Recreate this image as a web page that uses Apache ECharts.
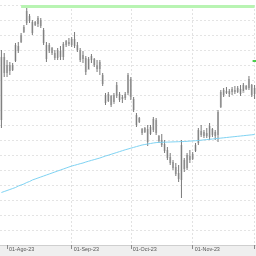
<!DOCTYPE html>
<html>
<head>
<meta charset="utf-8">
<script src="https://cdn.jsdelivr.net/npm/echarts@6/dist/echarts.min.js"></script>
<style>html,body{margin:0;padding:0;background:#fff}#c{width:256px;height:256px}</style>
</head>
<body>
<div id="c"></div>
<script>
const dates = [
 '2023-07-28','2023-07-31',
 '2023-08-01','2023-08-02','2023-08-03','2023-08-04','2023-08-07','2023-08-08','2023-08-09','2023-08-10','2023-08-11',
 '2023-08-14','2023-08-15','2023-08-16','2023-08-17','2023-08-18','2023-08-21','2023-08-22','2023-08-23','2023-08-24','2023-08-25',
 '2023-08-28','2023-08-29','2023-08-30','2023-08-31',
 '2023-09-01','2023-09-04','2023-09-05','2023-09-06','2023-09-07','2023-09-08','2023-09-11','2023-09-12','2023-09-13','2023-09-14','2023-09-15',
 '2023-09-18','2023-09-19','2023-09-20','2023-09-21','2023-09-22','2023-09-25','2023-09-26','2023-09-27','2023-09-28','2023-09-29',
 '2023-10-02','2023-10-03','2023-10-04','2023-10-05','2023-10-06','2023-10-09','2023-10-10','2023-10-11','2023-10-12','2023-10-13',
 '2023-10-16','2023-10-17','2023-10-18','2023-10-19','2023-10-20','2023-10-23','2023-10-24','2023-10-25','2023-10-26','2023-10-27',
 '2023-10-30','2023-10-31',
 '2023-11-01','2023-11-02','2023-11-03','2023-11-06','2023-11-07','2023-11-08','2023-11-09','2023-11-10','2023-11-13','2023-11-14',
 '2023-11-15','2023-11-16','2023-11-17','2023-11-20','2023-11-21','2023-11-22','2023-11-23','2023-11-24','2023-11-27','2023-11-28',
 '2023-11-29','2023-11-30',
 '2023-12-01'
];
const opens = [125,188,172,180,175,184,199,203,213,222,229,223,220,221,225,215,200,194,197,192,
 187,194,188,200,203,200,206,200,195,186,187,175,185,186,180,176,170,150,144,149,
 141,149,151,146,147,152,166,146,130,123,116,113,116,111,115,125,109,105,101,95,
 88,83,78,72,65,85,77,89,86,94,102,114,109,112,108,116,109,110,138,150,
 154,151,153,155,153,156,152,159,157,160,151];
const closes = [188,172,180,174,180,200,194,210,218,234,224,212,223,227,219,202,186,200,192,187,
 195,188,201,204,201,206,199,195,185,190,173,186,189,180,176,183,161,142,151,140,
 150,160,145,148,151,170,148,135,120,127,112,117,103,118,126,112,104,100,94,87,
 82,77,71,66,100,76,90,85,91,100,115,110,113,109,119,110,113,133,153,155,
 152,154,156,153,157,151,160,156,166,150,157];
const lows = [117,168,168,170,174,183,192,202,212,220,222,210,219,218,217,200,183,192,190,185,
 185,185,185,198,199,198,197,193,183,182,170,176,182,178,173,170,159,140,143,138,
 143,147,143,142,145,150,145,133,118,122,110,112,99,110,113,110,102,98,92,85,
 80,75,69,63,47,73,75,82,85,93,100,108,107,107,105,108,105,103,137,148,
 151,148,150,151,152,149,154,155,155,148,146];
const highs = [195,192,185,183,182,202,203,212,220,238,231,225,224,229,227,217,203,202,198,195,
 197,199,203,205,207,208,213,203,197,194,189,188,191,187,185,185,172,152,153,150,
 152,163,153,150,153,172,168,148,132,128,117,118,120,120,128,127,110,111,105,98,
 92,85,82,80,105,87,92,95,93,102,117,120,115,117,122,117,115,135,155,157,
 158,156,158,159,159,160,162,160,169,161,160];
const movingAvg = [52.5,53.5,54.5,55.5,56.5,57.5,59,60,61,62.5,63.5,65,66,67,68,69,70,71,72,73,
 74,75,76,77,78,79,79.7,80.5,81.3,82,83,83.8,84.6,85.4,86.2,87,88,89,89.8,90.7,
 91.6,92.5,93.4,94.3,95.2,96,96.8,97.6,98.4,99.2,100,100.5,101,101.5,102,102.4,102.6,102.7,102.8,102.9,
 103,103.1,103.2,103.3,103.4,103.5,103.7,103.9,104.1,104.3,104.5,104.8,105.1,105.4,105.7,106,106.3,106.6,106.9,107.2,
 107.5,107.8,108.1,108.4,108.7,109,109.3,109.6,109.9,110.2,110.5];
const tickDates = ['2023-08-01','2023-09-01','2023-10-02','2023-11-01','2023-12-01'];
const tickLabels = ['01-Ago-23','01-Sep-23','01-Oct-23','01-Nov-23',''];
const gridLineDates = ['2023-09-01','2023-10-02','2023-11-01','2023-12-01'];
const resistanceLevel = 239;
const resistanceStart = '2023-08-08';
const targetLevel = 184;
const targetDate = '2023-12-01';

const ohlc = dates.map((d, i) => [i, opens[i], closes[i], lows[i], highs[i]]);
const isTick = (idx, val) => tickDates.indexOf(val) >= 0;
const isGridLine = (idx, val) => gridLineDates.indexOf(val) >= 0;

const chart = echarts.init(document.getElementById('c'), null, {renderer: 'canvas'});
chart.setOption({
  animation: false,
  backgroundColor: '#ffffff',
  graphic: [{type: 'rect', z: -1, silent: true, shape: {x: 0, y: 245, width: 256, height: 11}, style: {fill: '#efefef'}}],
  grid: {left: 0, right: 0, top: 5, bottom: 11, containLabel: false, outerBoundsMode: 'none'},
  xAxis: {
    type: 'category', data: dates, boundaryGap: true,
    axisLine: {show: true, lineStyle: {color: '#cfcfcf', width: 1}},
    axisTick: {show: true, interval: isTick, alignWithLabel: true, length: 4, lineStyle: {color: '#8a8a8a'}},
    axisLabel: {show: true, interval: isTick, align: 'left', margin: 2, padding: [0,0,0,2],
      fontSize: 5.4, fontFamily: 'Liberation Sans', color: '#555',
      formatter: v => tickLabels[tickDates.indexOf(v)] || ''},
    splitLine: {show: true, interval: isGridLine, alignWithLabel: true, lineStyle: {color: '#e2e2e2', type: [2, 2]}}
  },
  yAxis: {
    type: 'value', min: 0, max: 240, interval: 15,
    axisLine: {show: false}, axisTick: {show: false}, axisLabel: {show: false},
    splitLine: {show: true, lineStyle: {color: '#e4e4e4', type: [2, 2]}}
  },
  series: [
    {
      type: 'custom', data: ohlc, encode: {x: 0, y: [1, 2, 3, 4]},
      renderItem: function (params, api) {
        const idx = api.value(0);
        const o = api.coord([idx, api.value(1)]);
        const c = api.coord([idx, api.value(2)]);
        const l = api.coord([idx, api.value(3)]);
        const h = api.coord([idx, api.value(4)]);
        const top = Math.min(o[1], c[1]);
        const ht = Math.max(1, Math.abs(o[1] - c[1]));
        return {type: 'group', children: [
          {type: 'rect', shape: {x: o[0] - 1, y: top, width: 2, height: ht}, style: {fill: '#c2c2c2'}},
          {type: 'line', shape: {x1: h[0], y1: h[1], x2: l[0], y2: l[1]}, style: {stroke: '#7a7a7a', lineWidth: 1}}
        ]};
      }
    },
    {
      type: 'line', data: movingAvg, symbol: 'none', smooth: false,
      lineStyle: {color: '#7fd3f3', width: 1},
      markLine: {
        silent: true, symbol: 'none', label: {show: false},
        lineStyle: {color: '#b8f4b2', width: 3, type: 'solid'},
        data: [[{coord: [resistanceStart, resistanceLevel]}, {coord: [dates[dates.length - 1], resistanceLevel]}]]
      },
      markPoint: {
        silent: true, label: {show: false},
        data: [{coord: [targetDate, targetLevel], symbol: 'rect', symbolSize: [4, 2], itemStyle: {color: '#4ccc4c'}}]
      }
    }
  ]
});
</script>
</body>
</html>
